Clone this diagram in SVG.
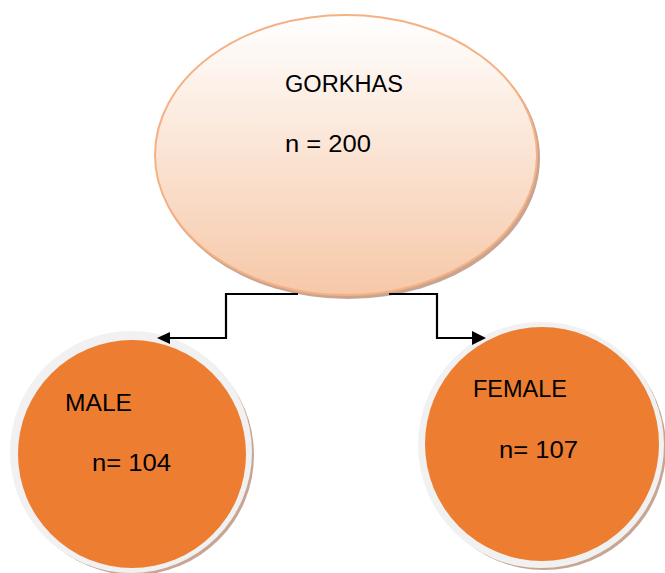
<svg xmlns="http://www.w3.org/2000/svg" width="665" height="573" viewBox="0 0 665 573">
<defs>
<linearGradient id="topGrad" x1="0" y1="0" x2="0" y2="1">
<stop offset="0" stop-color="#ffffff"/>
<stop offset="1" stop-color="#f6c8a8"/>
</linearGradient>
</defs>
<style>
.lbl { font-family: "Liberation Sans", Arial, sans-serif; font-size: 23px; fill: #000; }
.conn { fill: none; stroke: #000; stroke-width: 2.2; }
.head { fill: #000; }
.shadow { fill: #c8a592; }
.ring { fill: #f1f1f1; }
.orange { fill: #ed7d31; }
</style>
<rect width="665" height="573" fill="#ffffff"/>
<g id="gorkhas">
<ellipse cx="348" cy="158" rx="192" ry="141" class="shadow"/>
<ellipse cx="346" cy="155" rx="191" ry="140" fill="url(#topGrad)" stroke="#f4b183" stroke-width="2"/>
<text x="285" y="92" class="lbl" textLength="118" lengthAdjust="spacingAndGlyphs">GORKHAS</text>
<text x="285" y="152" class="lbl" textLength="86" lengthAdjust="spacingAndGlyphs">n = 200</text>
</g>
<g id="male">
<circle cx="134" cy="455" r="120" class="shadow"/>
<circle cx="131" cy="452" r="121" class="ring"/>
<circle cx="132" cy="454" r="114" class="orange"/>
<text x="65" y="411" class="lbl" textLength="67" lengthAdjust="spacingAndGlyphs">MALE</text>
<text x="92" y="471" class="lbl" textLength="79" lengthAdjust="spacingAndGlyphs">n= 104</text>
</g>
<g id="female">
<circle cx="544" cy="448" r="122" class="shadow"/>
<circle cx="541" cy="445" r="123" class="ring"/>
<circle cx="542" cy="444" r="117" class="orange"/>
<text x="473" y="397" class="lbl" textLength="94" lengthAdjust="spacingAndGlyphs">FEMALE</text>
<text x="499" y="458" class="lbl" textLength="79" lengthAdjust="spacingAndGlyphs">n= 107</text>
</g>
<g id="connectors">
<polyline class="conn" points="298,294 226,294 226,338 168,338"/>
<polygon class="head" points="157,338 170,332 170,344"/>
<polyline class="conn" points="389,294 437,294 437,338 475,338"/>
<polygon class="head" points="486,338 472,331 472,345"/>
</g>
</svg>
